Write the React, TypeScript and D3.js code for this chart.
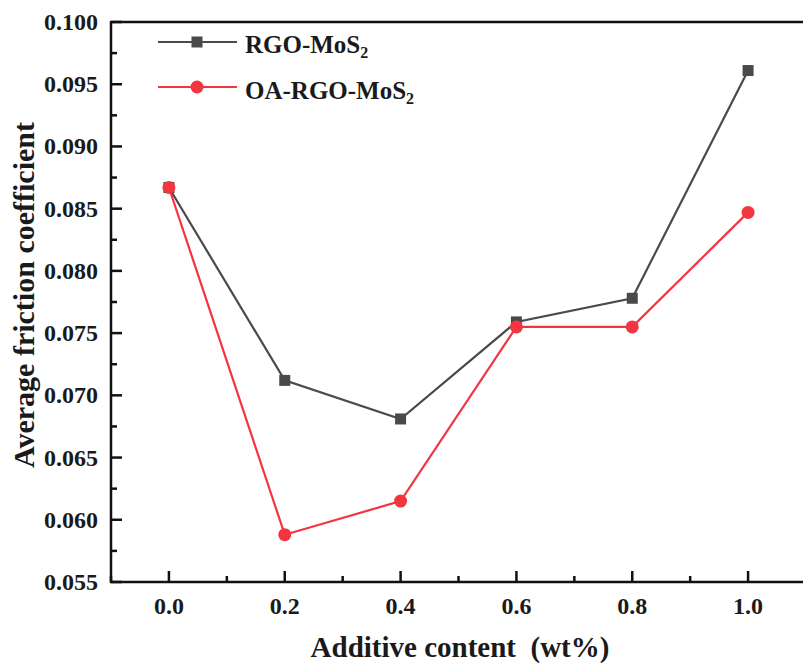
import React from "react";
import * as d3 from "d3";

const xValues = [0.0, 0.2, 0.4, 0.6, 0.8, 1.0];
const rgoMoS2 = [0.0867, 0.0712, 0.0681, 0.0759, 0.0778, 0.0961];
const oaRgoMoS2 = [0.0867, 0.0588, 0.0615, 0.0755, 0.0755, 0.0847];
const xTicks = [0.0, 0.2, 0.4, 0.6, 0.8, 1.0];
const xMinor = [-0.1, 0.1, 0.3, 0.5, 0.7, 0.9, 1.1];
const yTicks = [0.055, 0.06, 0.065, 0.07, 0.075, 0.08, 0.085, 0.09, 0.095, 0.1];
const yMinor = [0.0575, 0.0625, 0.0675, 0.0725, 0.0775, 0.0825, 0.0875, 0.0925, 0.0975];

const W = 803;
const H = 666;
const left = 111;
const right = 806;
const top = 22;
const bottom = 582;
const FONT = "'Liberation Serif', 'Times New Roman', serif";
const GRAY = "#4a4a4a";
const RED = "#f2353f";

export default function App() {
  const x = d3.scaleLinear().domain([-0.1, 1.1]).range([left, right]);
  const y = d3.scaleLinear().domain([0.055, 0.1]).range([bottom, top]);
  const line = d3
    .line<number>()
    .x((_, i) => x(xValues[i]))
    .y((d) => y(d));

  return (
    <svg
      width={W}
      height={H}
      style={{ position: "absolute", left: 0, top: 0, background: "#fff" }}
      fontFamily={FONT}
    >
      {/* axes */}
      <line x1={left} x2={left} y1={top - 1} y2={bottom + 1} stroke="#111" strokeWidth={2.5} />
      <line x1={left - 1} x2={W} y1={bottom} y2={bottom} stroke="#111" strokeWidth={2.5} />
      <line x1={left - 1} x2={W} y1={top} y2={top} stroke="#111" strokeWidth={2.5} />
      {yTicks.map((t) => (
        <g key={"y" + t}>
          <line x1={left} x2={left + 11} y1={y(t)} y2={y(t)} stroke="#111" strokeWidth={2.5} />
          <text
            x={left - 13}
            y={y(t)}
            textAnchor="end"
            dominantBaseline="central"
            fontSize={24}
            fontWeight="bold"
            fill="#1a1a1a"
          >
            {t.toFixed(3)}
          </text>
        </g>
      ))}
      {yMinor.map((t) => (
        <line key={"ym" + t} x1={left} x2={left + 6} y1={y(t)} y2={y(t)} stroke="#111" strokeWidth={2.5} />
      ))}
      {xTicks.map((t) => (
        <g key={"x" + t}>
          <line x1={x(t)} x2={x(t)} y1={bottom} y2={bottom - 11} stroke="#111" strokeWidth={2.5} />
          <text
            x={x(t)}
            y={bottom + 32}
            textAnchor="middle"
            fontSize={24}
            fontWeight="bold"
            fill="#1a1a1a"
          >
            {t.toFixed(1)}
          </text>
        </g>
      ))}
      {xMinor.map((t) => (
        <line key={"xm" + t} x1={x(t)} x2={x(t)} y1={bottom} y2={bottom - 6} stroke="#111" strokeWidth={2.5} />
      ))}

      {/* axis labels */}
      <text
        x={460}
        y={657}
        textAnchor="middle"
        fontSize={29}
        fontWeight="bold"
        fill="#1a1a1a"
        xmlSpace="preserve"
      >
        {"Additive content  (wt%)"}
      </text>
      <text
        transform={`translate(34, 295) rotate(-90)`}
        textAnchor="middle"
        fontSize={30}
        fontWeight="bold"
        fill="#1a1a1a"
      >
        Average friction coefficient
      </text>

      {/* series */}
      <path d={line(rgoMoS2) || ""} fill="none" stroke={GRAY} strokeWidth={2.2} />
      {rgoMoS2.map((v, i) => (
        <rect key={"g" + i} x={x(xValues[i]) - 5.5} y={y(v) - 5.5} width={11} height={11} fill={GRAY} />
      ))}
      <path d={line(oaRgoMoS2) || ""} fill="none" stroke={RED} strokeWidth={2.2} />
      {oaRgoMoS2.map((v, i) => (
        <circle key={"r" + i} cx={x(xValues[i])} cy={y(v)} r={6.5} fill={RED} />
      ))}

      {/* legend */}
      <g>
        <line x1={158} x2={237} y1={42} y2={42} stroke={GRAY} strokeWidth={2.2} />
        <rect x={197 - 5.5} y={42 - 5.5} width={11} height={11} fill={GRAY} />
        <text x={245} y={53} fontSize={25} fontWeight="bold" fill="#1a1a1a">
          RGO-MoS<tspan fontSize={16} dy={5}>2</tspan>
        </text>
        <line x1={158} x2={237} y1={87} y2={87} stroke={RED} strokeWidth={2.2} />
        <circle cx={197} cy={87} r={6.5} fill={RED} />
        <text x={245} y={99} fontSize={25} fontWeight="bold" fill="#1a1a1a">
          OA-RGO-MoS<tspan fontSize={16} dy={5}>2</tspan>
        </text>
      </g>
    </svg>
  );
}
